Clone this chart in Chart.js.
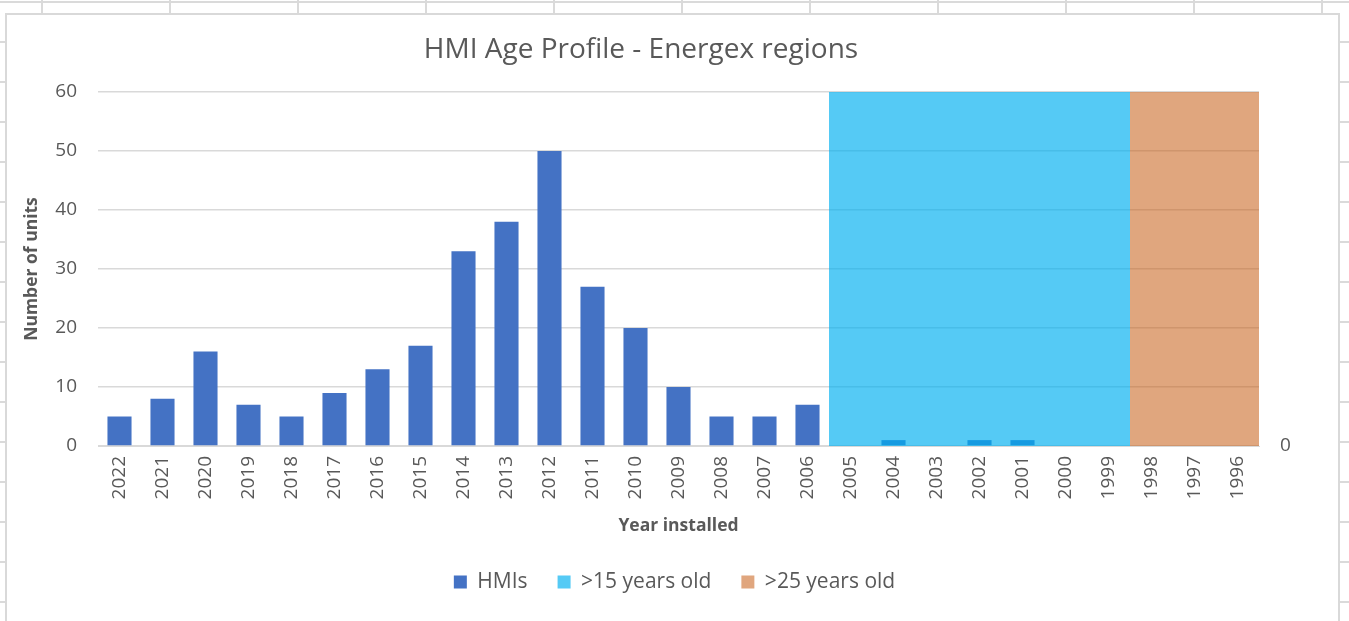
<!DOCTYPE html>
<html>
<head>
<meta charset="utf-8">
<script src="https://cdn.jsdelivr.net/npm/chart.js@4"></script>
<style>
    html, body { margin: 0; padding: 0; }
    body {
        width: 1349px;
        height: 621px;
        overflow: hidden;
        position: relative;
        background-color: #fff;
        background-image:
            repeating-linear-gradient(to right, transparent 0 41px, #dadada 41px 43px, transparent 43px 128px),
            repeating-linear-gradient(to bottom, transparent 0 1px, #dadada 1px 3px, transparent 3px 40px);
    }
    #frame {
        position: absolute;
        left: 5px;
        top: 13px;
        width: 1331px;
        height: 640px;
        background: #fff;
        border: 2px solid #d9d9d9;
    }
    canvas#hmi { position: absolute; left: 0; top: 0; }
</style>
</head>
<body>
<div id="frame"></div>
<canvas id="hmi" width="1349" height="621"></canvas>
<script>
"use strict";

const years = ["2022", "2021", "2020", "2019", "2018", "2017", "2016", "2015", "2014",
    "2013", "2012", "2011", "2010", "2009", "2008", "2007", "2006", "2005", "2004",
    "2003", "2002", "2001", "2000", "1999", "1998", "1997", "1996"];
const hmiCount = [5, 8, 16, 7, 5, 9, 13, 17, 33, 38, 50, 27, 20, 10, 5, 5, 7, 0, 1, 0, 1, 1, 0, 0, 0, 0, 0];
const over15 = [null, null, null, null, null, null, null, null, null, null, null, null, null, null, null, null, null,
    60, 60, 60, 60, 60, 60, 60, null, null, null];
const over25 = [null, null, null, null, null, null, null, null, null, null, null, null, null, null, null, null, null,
    null, null, null, null, null, null, null, 60, 60, 60];
const yTicks = [0, 10, 20, 30, 40, 50, 60];

const TEXT = "#595959";
const FONT = "'Open Sans', 'DejaVu Sans', sans-serif";

// excel puts the title a bit left of the plot centre
const titlePlugin = {
    id: "xlTitle",
    afterDraw(chart) {
        const c = chart.ctx;
        c.save();
        c.font = "28px " + FONT;
        c.fillStyle = TEXT;
        c.textAlign = "center";
        c.textBaseline = "middle";
        c.fillText("HMI Age Profile - Energex regions", 641, 50);
        c.restore();
    }
};

function band(label, data, colour) {
    return {
        label: label,
        data: data,
        backgroundColor: colour,
        borderWidth: 0,
        inflateAmount: 0,
        grouped: false,
        barPercentage: 1,
        categoryPercentage: 1,
        yAxisID: "y2",
        order: 1
    };
}

new Chart(document.getElementById("hmi"), {
    type: "bar",
    data: {
        labels: years,
        datasets: [{
            label: "HMIs",
            data: hmiCount,
            backgroundColor: "#4472C4",
            borderWidth: 0,
            grouped: false,
            barPercentage: 0.56,
            categoryPercentage: 1,
            yAxisID: "y",
            order: 2
        },
        band(">15 years old", over15, "rgba(0,176,240,0.667)"),
        band(">25 years old", over25, "rgba(197,90,17,0.54)")]
    },
    options: {
        responsive: false,
        animation: false,
        layout: {
            padding: { top: 92, left: 0, right: 0, bottom: 18.5 }
        },
        plugins: {
            title: { display: false },
            tooltip: { enabled: false },
            legend: {
                position: "bottom",
                labels: {
                    color: TEXT,
                    font: { family: FONT, size: 21 },
                    boxWidth: 13,
                    boxHeight: 13,
                    padding: 30,
                    sort: (a, b) => a.datasetIndex - b.datasetIndex
                }
            }
        },
        scales: {
            x: {
                grid: { display: false, drawTicks: false },
                border: { display: true, color: "#d9d9d9" },
                ticks: {
                    color: TEXT,
                    font: { family: FONT, size: 19 },
                    autoSkip: false,
                    minRotation: 90,
                    maxRotation: 90,
                    padding: 10
                },
                title: {
                    display: true,
                    text: "Year installed",
                    color: TEXT,
                    font: { family: FONT, size: 17.5, weight: "bold" },
                    // bottom axis title offset comes from padding.bottom
                    padding: { top: 0, bottom: 5 }
                },
                afterFit(scale) { scale.height = 95.5; }
            },
            y: {
                position: "left",
                min: 0,
                max: 60,
                afterBuildTicks(scale) { scale.ticks = yTicks.map(v => ({ value: v })); },
                grid: { color: "#d9d9d9", lineWidth: 1.5, drawTicks: false },
                border: { display: false },
                ticks: {
                    color: TEXT,
                    font: { family: FONT, size: 19 },
                    padding: 21
                },
                title: {
                    display: true,
                    text: "Number of units",
                    color: TEXT,
                    font: { family: FONT, size: 17.5, weight: "bold" },
                    padding: { top: 21.5, bottom: 0 }
                },
                afterFit(scale) { scale.width = 98; }
            },
            y2: {
                position: "right",
                min: 0,
                max: 60,
                afterBuildTicks(scale) { scale.ticks = [{ value: 0 }]; },
                grid: { display: false, drawTicks: false },
                border: { display: false },
                ticks: {
                    color: TEXT,
                    font: { family: FONT, size: 19 },
                    padding: 21
                },
                // 27 categories x 43px keeps the band edges on whole pixels
                afterFit(scale) { scale.width = 90; }
            }
        }
    },
    plugins: [titlePlugin]
});
</script>
</body>
</html>
